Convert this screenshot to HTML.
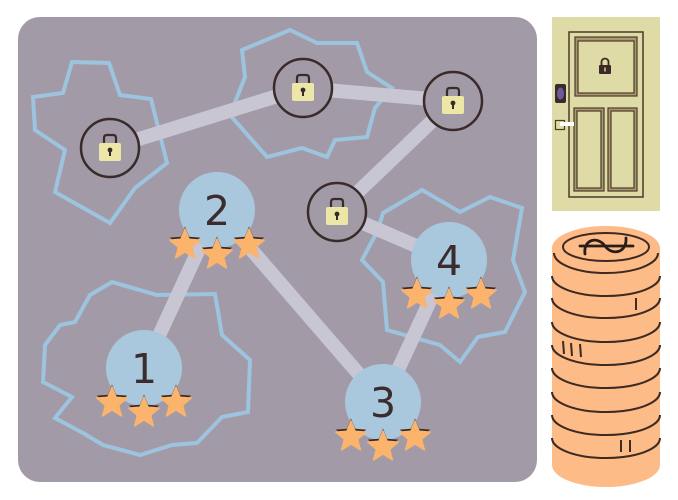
<!DOCTYPE html>
<html><head><meta charset="utf-8"><style>
html,body{margin:0;padding:0;background:#fff;}
svg{display:block;}
text{font-family:"DejaVu Sans","Liberation Sans",sans-serif;}
</style></head><body>
<svg width="678" height="500" viewBox="0 0 678 500" xmlns="http://www.w3.org/2000/svg">
<defs>
<path id="star" d="M0,-16 L4.1,-5.7 L15.2,-4.9 L6.7,2.2 L9.4,12.9 L0,7 L-9.4,12.9 L-6.7,2.2 L-15.2,-4.9 L-4.1,-5.7 Z"/>
<g id="stars">
<use href="#star" x="-32" y="32.5" fill="#3a2a2a"/>
<use href="#star" x="0" y="42.5" fill="#3a2a2a"/>
<use href="#star" x="32" y="32.5" fill="#3a2a2a"/>
<use href="#star" x="-32" y="35" fill="#fcb46c" stroke="#fcb46c" stroke-width="1.5" stroke-linejoin="round"/>
<use href="#star" x="0" y="45" fill="#fcb46c" stroke="#fcb46c" stroke-width="1.5" stroke-linejoin="round"/>
<use href="#star" x="32" y="35" fill="#fcb46c" stroke="#fcb46c" stroke-width="1.5" stroke-linejoin="round"/>
</g>
<g id="lock">
<circle r="29" fill="#a39aa8" stroke="#3a2a2a" stroke-width="2.5"/>
<path d="M-6,-4 V-10 Q-6,-13 -3,-13 H3 Q6,-13 6,-10 V-4" fill="none" stroke="#3a2a2a" stroke-width="2.2"/>
<rect x="-11" y="-5" width="22" height="18" rx="2" fill="#ece7a6"/>
<circle cx="0" cy="2" r="2.4" fill="#3a2a2a"/>
<rect x="-1" y="2" width="2" height="6" fill="#3a2a2a"/>
</g>
</defs>

<!-- panel -->
<rect x="18" y="17" width="519" height="465" rx="22" fill="#a39aa8"/>

<!-- region outlines -->
<g fill="none" stroke="#9cc4de" stroke-width="4" stroke-linejoin="miter">
<polygon points="72,62 109,63 120,95 151,99 167,163 135,188 110,223 55,192 65,150 35,130 33,97 63,93"/>
<polygon points="290,30 317,43 357,43 367,72 392,88 375,108 367,137 335,140 327,157 302,148 267,157 230,115 245,77 242,50"/>
<polygon points="383,213 422,190 460,212 490,197 522,208 513,260 525,292 505,332 478,337 460,362 440,345 387,330 383,282 362,260 378,230"/>
<polygon points="112,282 157,295 215,294 222,335 250,360 248,412 222,417 197,443 172,445 140,455 103,445 83,433 55,418 72,397 43,382 45,345 60,325 75,322 90,295"/>
</g>

<!-- connectors -->
<g stroke="#c9c6d4" stroke-width="14" fill="none">
<line x1="110" y1="148" x2="303" y2="88"/>
<line x1="303" y1="88" x2="453" y2="101"/>
<line x1="453" y1="101" x2="337" y2="212"/>
<line x1="337" y1="212" x2="449" y2="260"/>
<line x1="217" y1="210" x2="144" y2="368"/>
<line x1="217" y1="210" x2="383" y2="402"/>
<line x1="449" y1="260" x2="383" y2="402"/>
</g>

<!-- locks -->
<use href="#lock" x="110" y="148"/>
<use href="#lock" x="303" y="88"/>
<use href="#lock" x="453" y="101"/>
<use href="#lock" x="337" y="212"/>

<!-- nodes -->
<g fill="#a9c8de">
<circle cx="217" cy="210" r="38"/>
<circle cx="144" cy="368" r="38"/>
<circle cx="383" cy="402" r="38"/>
<circle cx="449" cy="260" r="38"/>
</g>
<g fill="#3b2d2e" font-size="41" text-anchor="middle">
<text x="217" y="225">2</text>
<text x="144" y="383">1</text>
<text x="383" y="417">3</text>
<text x="449" y="275">4</text>
</g>
<use href="#stars" x="217" y="210"/>
<use href="#stars" x="144" y="368"/>
<use href="#stars" x="383" y="402"/>
<use href="#stars" x="449" y="260"/>

<!-- door -->
<rect x="552" y="17" width="108" height="194" fill="#dfdba6"/>
<rect x="569" y="32" width="74" height="165" fill="none" stroke="#4a3a2a" stroke-width="1.5"/>
<g stroke="#4a3a2a" stroke-width="1.2">
<rect x="575" y="37" width="62" height="59" fill="#a8996e"/>
<rect x="578" y="41" width="56" height="52" fill="#dfdba6"/>
<rect x="574" y="108" width="30" height="83" fill="#a8996e"/>
<rect x="577" y="111" width="24" height="77" fill="#dfdba6"/>
<rect x="608" y="108" width="29" height="83" fill="#a8996e"/>
<rect x="611" y="111" width="23" height="77" fill="#dfdba6"/>
</g>
<path d="M601.5,65 V62 A3.5,3.5 0 0 1 608.5,62 V65" fill="none" stroke="#3d2a26" stroke-width="1.8"/>
<rect x="599" y="65" width="12" height="9" rx="1" fill="#3d2a26"/>
<rect x="604.3" y="67.5" width="1.4" height="4" fill="#dfdba6"/>
<rect x="555" y="84" width="11" height="19" rx="2" fill="#3a2a2a"/>
<ellipse cx="560.5" cy="93.5" rx="3.5" ry="6" fill="#6a5c9a"/>
<rect x="555.5" y="120.5" width="9" height="9" fill="none" stroke="#4a3a2a" stroke-width="1.2"/>
<rect x="560" y="122" width="14" height="4" fill="#fff"/>

<!-- coin stack -->
<path d="M552,248 L552,465 A54,22 0 0 0 660,465 L660,248 A54,22 0 0 0 552,248 Z" fill="#fdbb87"/>
<g fill="none" stroke="#3d2a22" stroke-width="2">
<ellipse cx="606" cy="247" rx="43" ry="14"/>
<path d="M554,253 A52,20 0 0 0 658,253"/>
<path d="M552,276 A54,20 0 0 0 660,276"/>
<path d="M552,298 A54,20 0 0 0 660,298"/>
<path d="M552,322 A54,20 0 0 0 660,322"/>
<path d="M552,345 A54,20 0 0 0 660,345"/>
<path d="M552,368 A54,20 0 0 0 660,368"/>
<path d="M552,392 A54,20 0 0 0 660,392"/>
<path d="M552,415 A54,20 0 0 0 660,415"/>
<path d="M552,438 A54,20 0 0 0 660,438"/>
<line x1="636" y1="298" x2="636" y2="310"/>
<line x1="563" y1="341" x2="564" y2="354"/>
<line x1="571" y1="343" x2="572" y2="356"/>
<line x1="580" y1="344" x2="581" y2="357"/>
<line x1="621" y1="440" x2="621" y2="452"/>
<line x1="630" y1="440" x2="630" y2="452"/>
</g>
<g fill="none" stroke="#2a1c18" stroke-width="2.8" stroke-linecap="round">
<line x1="580" y1="246" x2="633" y2="246"/>
<path d="M585,254 C583,239 598,236 605,246 C612,256 627,253 626,238"/>
</g>
</svg>
</body></html>
